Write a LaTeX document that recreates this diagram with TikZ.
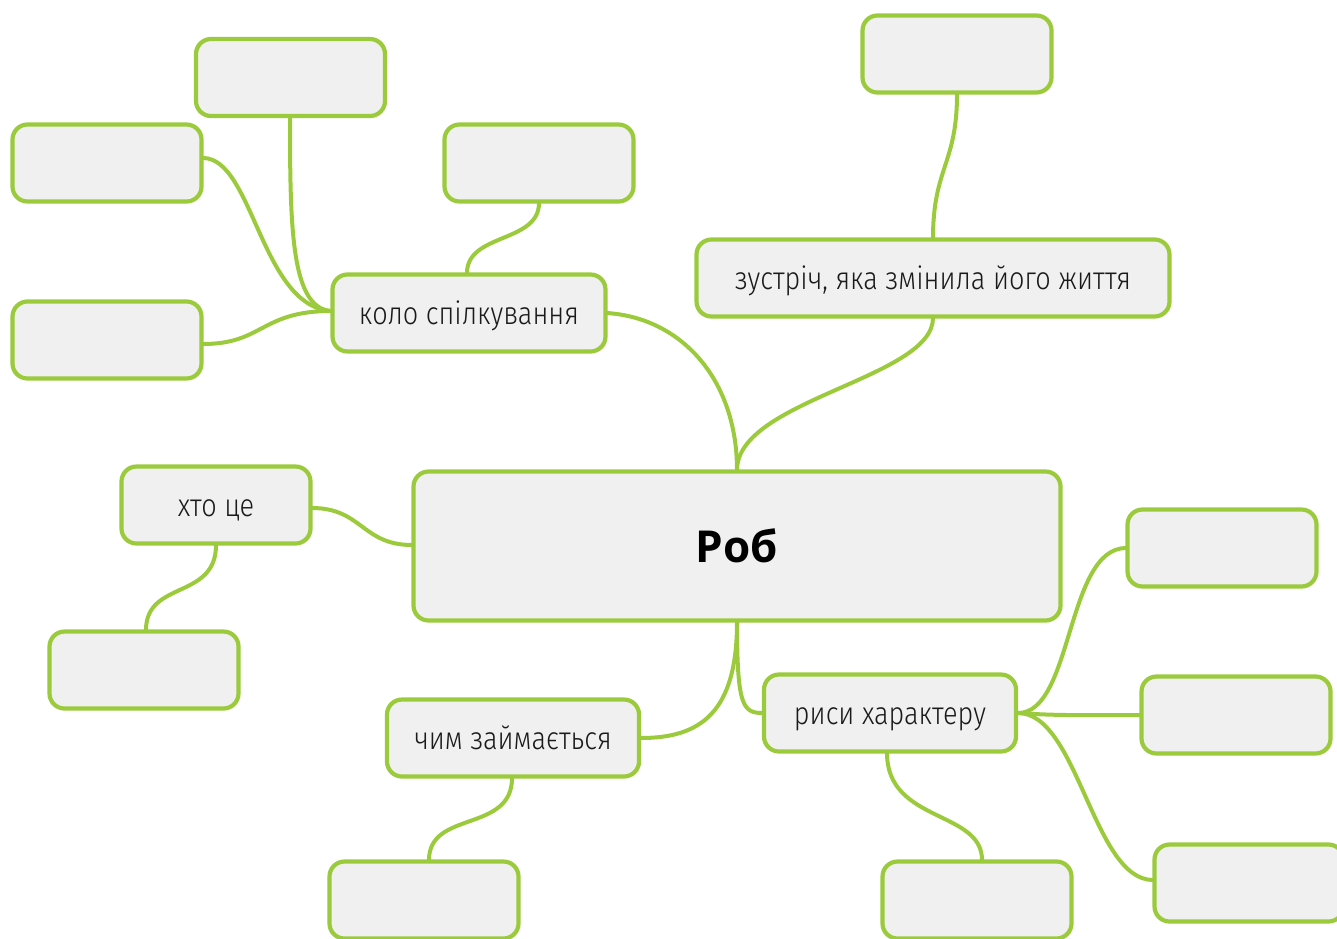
\documentclass[tikz,border=0pt]{standalone}
\usepackage{fontspec}
\setmainfont{Fira Sans Light}[FakeStretch=0.86]
\newfontfamily\robfont{Open Sans}
\definecolor{lgreen}{HTML}{9BCB3C}
\definecolor{boxfill}{HTML}{F0F0F0}
\definecolor{txt}{HTML}{1A1A1A}
\newcommand{\lbl}[1]{\raisebox{-11pt}[0pt][0pt]{#1}}
\begin{document}
\begin{tikzpicture}[x=1pt,y=-1pt,
  box/.style={draw=lgreen,line width=4.2pt,fill=boxfill,rounded corners=15pt,
    minimum width=#1,minimum height=77pt,inner sep=0pt,text=txt,font=\fontsize{31.5}{36}\selectfont},
  box/.default=189pt,
  conn/.style={draw=lgreen,line width=4pt}]
\useasboundingbox (0,0) rectangle (1337,938);
\clip (0,0) rectangle (1337,938);
% connector end points
\coordinate (robN) at (737,470);
\coordinate (robS) at (737,622);
\coordinate (koloW) at (331,311);
\coordinate (koloE) at (607,313);
\coordinate (koloN) at (467,273);
\coordinate (zusN) at (933,238);
\coordinate (zusS) at (933,318);
\coordinate (xtoE) at (312,508);
\coordinate (xtoS) at (216,545);
\coordinate (robW) at (412,545);
\coordinate (risW) at (763,713);
\coordinate (risE) at (1018,713);
\coordinate (risS) at (887,753);
\coordinate (chimE) at (641,738);
\coordinate (chimS) at (512,778);
\coordinate (aS) at (290,117);
\coordinate (bE) at (203,158);
\coordinate (cS) at (539,203);
\coordinate (dS) at (957,94);
\coordinate (eE) at (203,344);
\coordinate (fN) at (146,630);
\coordinate (gW) at (1126,548);
\coordinate (hW) at (1140,715);
\coordinate (iW) at (1153,880);
\coordinate (jN) at (429,860);
\coordinate (kN) at (982,860);

\draw[conn] (koloE) .. controls +(75,5) and +(0,-90) .. (robN);
\draw[conn] (robN) .. controls +(0,-70) and +(0,60) .. (zusS);
\draw[conn] (zusN) .. controls +(0,-70) and +(0,70) .. (dS);
\draw[conn] (koloN) .. controls +(0,-40) and +(0,40) .. (cS);
\draw[conn] (koloW) .. controls +(-40,-3) and +(0,110) .. (aS);
\draw[conn] (koloW) .. controls +(-70,-5) and +(50,0) .. (bE);
\draw[conn] (koloW) .. controls +(-70,0) and +(60,0) .. (eE);
\draw[conn] (xtoE) .. controls +(50,0) and +(-50,0) .. (robW);
\draw[conn] (xtoS) .. controls +(0,55) and +(0,-50) .. (fN);
\draw[conn] (robS) .. controls +(0,90) and +(60,0) .. (chimE);
\draw[conn] (robS) .. controls +(0,85) and +(-20,0) .. (risW);
\draw[conn] (risE) .. controls +(55,0) and +(-60,0) .. (gW);
\draw[conn] (risE) .. controls +(40,3) and +(-40,0) .. (hW);
\draw[conn] (risE) .. controls +(60,0) and +(-60,0) .. (iW);
\draw[conn] (risS) .. controls +(0,70) and +(0,-50) .. (kN);
\draw[conn] (chimS) .. controls +(0,55) and +(0,-50) .. (jN);

% nodes
\node[box] (a) at (290.5,77.5) {};
\node[box] (b) at (107,163) {};
\node[box] (c) at (539,163) {};
\node[box] (d) at (957,54) {};
\node[box] (e) at (107,340) {};
\node[box] (f) at (144,670) {};
\node[box] (g) at (1222,548) {};
\node[box] (h) at (1236,715) {};
\node[box] (i) at (1249,883) {};
\node[box] (j) at (424,900) {};
\node[box] (k) at (977,900) {};
\node[box=273pt] (kolo) at (469,313) {\lbl{коло спілкування}};
\node[box=473pt] (zus) at (933,278) {\lbl{зустріч, яка змінила його життя}};
\node[box] (xto) at (216,505) {\lbl{хто це}};
\node[box=252pt] (ris) at (890,713) {\lbl{риси характеру}};
\node[box=252pt] (chim) at (513,738) {\lbl{чим займається}};
\node[box=647pt,minimum height=149pt,font=\robfont\bfseries\fontsize{44}{52}\selectfont,text=black] (rob) at (737,546) {Роб};
\end{tikzpicture}
\end{document}
